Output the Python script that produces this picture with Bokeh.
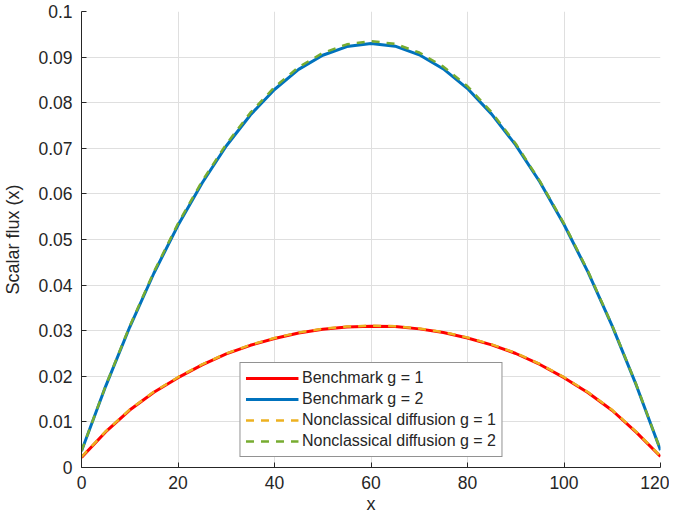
from bokeh.plotting import figure
from bokeh.models import Range1d, FixedTicker, CustomJSTickFormatter, Legend, LegendItem
from bokeh.embed import file_html
from bokeh.resources import INLINE

x = [0, 5, 10, 15, 20, 25, 30, 35, 40, 45, 50, 55, 60,
     65, 70, 75, 80, 85, 90, 95, 100, 105, 110, 115, 120]

bench_g1 = [0.0022, 0.0078, 0.0126, 0.0165, 0.0197, 0.0225, 0.0249, 0.0268, 0.0283,
            0.0295, 0.0303, 0.0308, 0.0310, 0.0309, 0.0304, 0.0296, 0.0284, 0.0269,
            0.0250, 0.0226, 0.0197, 0.0164, 0.0125, 0.0077, 0.0024]
bench_g2 = [0.0036, 0.0178, 0.0308, 0.0426, 0.0531, 0.0624, 0.0705, 0.0773, 0.0829,
            0.0873, 0.0904, 0.0923, 0.0930, 0.0924, 0.0905, 0.0874, 0.0831, 0.0775,
            0.0707, 0.0626, 0.0533, 0.0428, 0.0310, 0.0180, 0.0038]
ncd_g1 = [0.0023, 0.0079, 0.0127, 0.0166, 0.0198, 0.0226, 0.0250, 0.0269, 0.0284,
          0.0296, 0.0304, 0.0309, 0.0311, 0.0310, 0.0305, 0.0297, 0.0285, 0.0270,
          0.0251, 0.0227, 0.0198, 0.0165, 0.0126, 0.0078, 0.0025]
ncd_g2 = [0.0036, 0.0179, 0.0310, 0.0429, 0.0535, 0.0628, 0.0709, 0.0778, 0.0834,
          0.0878, 0.0909, 0.0928, 0.0935, 0.0929, 0.0910, 0.0879, 0.0836, 0.0779,
          0.0710, 0.0628, 0.0535, 0.0430, 0.0311, 0.0181, 0.0038]

x_ticks = [0, 20, 40, 60, 80, 100, 120]
y_ticks = [0, 0.01, 0.02, 0.03, 0.04, 0.05, 0.06, 0.07, 0.08, 0.09, 0.1]

labels = ["Benchmark g = 1", "Benchmark g = 2",
          "Nonclassical diffusion g = 1", "Nonclassical diffusion g = 2"]

FONT = "Liberation Sans"
DARK = "#262626"

p = figure(width=669, height=519, output_backend="svg", toolbar_location=None,
           x_range=Range1d(0, 120), y_range=Range1d(0, 0.1),
           min_border_left=81, min_border_right=9, min_border_top=11, min_border_bottom=52)
p.outline_line_color = None
p.background_fill_color = "white"
p.border_fill_color = "white"

r1 = p.line(x, bench_g1, line_color="#FF0000", line_width=3)
r2 = p.line(x, bench_g2, line_color="#0072BD", line_width=3)
r3 = p.line(x, ncd_g1, line_color="#EDB120", line_width=2.5, line_dash="8 7")
r4 = p.line(x, ncd_g2, line_color="#77AC30", line_width=2.5, line_dash="8 7")

p.xaxis.ticker = FixedTicker(ticks=x_ticks)
p.yaxis.ticker = FixedTicker(ticks=y_ticks)
p.yaxis.formatter = CustomJSTickFormatter(
    code="var s = tick.toFixed(2).replace(/0+$/, ''); return s.replace(/\\.$/, '');")

for ax in (p.xaxis, p.yaxis):
    ax.axis_line_color = DARK
    ax.axis_line_width = 1
    ax.major_tick_line_color = DARK
    ax.major_tick_in = 5
    ax.major_tick_out = 0
    ax.minor_tick_line_color = None
    ax.major_label_text_font = FONT
    ax.major_label_text_font_size = "17.5px"
    ax.major_label_text_color = DARK
    ax.axis_label_text_font = FONT
    ax.axis_label_text_font_size = "18px"
    ax.axis_label_text_font_style = "normal"
    ax.axis_label_text_color = DARK

p.xaxis.axis_label = "x"
p.yaxis.axis_label = "Scalar flux (x)"
p.xaxis.major_label_standoff = 8
p.yaxis.major_label_standoff = 9
p.xaxis.axis_label_standoff = 2
p.yaxis.axis_label_standoff = 12

p.xgrid.grid_line_color = "#DFDFDF"
p.ygrid.grid_line_color = "#DFDFDF"

legend = Legend(items=[LegendItem(label=labels[0], renderers=[r1]),
                       LegendItem(label=labels[1], renderers=[r2]),
                       LegendItem(label=labels[2], renderers=[r3]),
                       LegendItem(label=labels[3], renderers=[r4])],
                location="bottom_center", margin=10, padding=5, spacing=1,
                glyph_width=53, glyph_height=20, label_height=20, label_standoff=4,
                label_text_font=FONT, label_text_font_size="16px", label_text_color=DARK,
                border_line_color=DARK, border_line_width=1,
                background_fill_color="white", background_fill_alpha=1)
p.add_layout(legend)

open("out.html", "w").write(file_html(p, INLINE))
